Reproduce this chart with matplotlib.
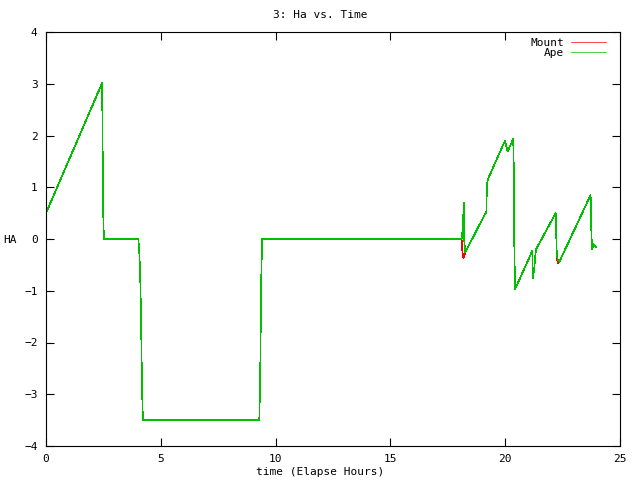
import numpy as np
from matplotlib import pyplot as plt

plt.rcParams.update({'font.family': 'DejaVu Sans Mono', 'font.size': 8})

# elapsed time (hours)
hours = [0.0, 2.44, 2.46, 2.48, 2.52, 4.02, 4.06, 4.10, 4.14, 4.18, 4.22,
         9.29, 9.33, 9.37, 9.41, 18.10, 18.14, 18.18, 18.20, 18.22, 18.26,
         18.30, 19.18, 19.20, 19.24, 19.99, 20.10, 20.35, 20.38, 20.40, 20.43,
         21.18, 21.20, 21.26, 21.30, 21.34, 22.20, 22.24, 22.28, 22.36,
         23.72, 23.74, 23.78, 23.85, 23.95]

ape = [0.5, 3.01, 2.27, 0.75, 0.0, 0.0, -0.23, -0.64, -1.53, -2.84, -3.5,
       -3.5, -2.63, -0.9, 0.0, 0.0, 0.15, 0.5, 0.7, -0.05, -0.25,
       -0.22, 0.53, 1.01, 1.15, 1.9, 1.69, 1.93, 1.2, -0.25, -0.97,
       -0.23, -0.76, -0.6, -0.37, -0.2, 0.5, -0.21, -0.40, -0.44,
       0.85, 0.33, -0.2, -0.1, -0.15]

mount = [0.5, 3.01, 2.27, 0.75, 0.0, 0.0, -0.23, -0.64, -1.53, -2.84, -3.5,
         -3.5, -2.63, -0.9, 0.0, 0.0, -0.27, -0.37, -0.35, -0.3, -0.27,
         -0.22, 0.53, 1.01, 1.15, 1.9, 1.69, 1.93, 1.2, -0.25, -0.97,
         -0.23, -0.76, -0.6, -0.37, -0.2, 0.5, -0.21, -0.47, -0.44,
         0.85, 0.33, -0.2, -0.1, -0.15]

x_ticks = [0, 5, 10, 15, 20, 25]
y_ticks = [-4, -3, -2, -1, 0, 1, 2, 3, 4]

fig = plt.figure(figsize=(6.4, 4.8), dpi=100)
ax = fig.add_axes([46 / 640, 1 - 446 / 480, (620 - 46) / 640, (446 - 32) / 480])

ax.plot(hours, mount, color='#ff0000', lw=0.5, label='Mount', antialiased=False)
ax.plot(hours, ape, color='#00c000', lw=0.5, label='Ape', antialiased=False)

ax.set_xlim(0, 25)
ax.set_ylim(-4, 4)
ax.set_xticks(x_ticks)
ax.set_yticks(y_ticks)
ax.tick_params(direction='in', length=6, width=0.8, top=True, right=True, pad=6)
for pos in ['right', 'top', 'bottom', 'left']:
    ax.spines[pos].set_linewidth(0.8)

fig.text(0.5, 1 - 15 / 480, '3: Ha vs. Time', ha='center', va='center')
fig.text(0.5, 1 - 472 / 480, 'time (Elapse Hours)', ha='center', va='center')
fig.text(10 / 640, 1 - 240 / 480, 'HA', ha='center', va='center')

ax.legend(loc='upper right', bbox_to_anchor=(1 - 7 / 574, 1 + 1 / 414),
          frameon=False, markerfirst=False, handlelength=3.2,
          labelspacing=0.05, borderaxespad=0.2, handletextpad=0.6)

plt.savefig('out.png')
